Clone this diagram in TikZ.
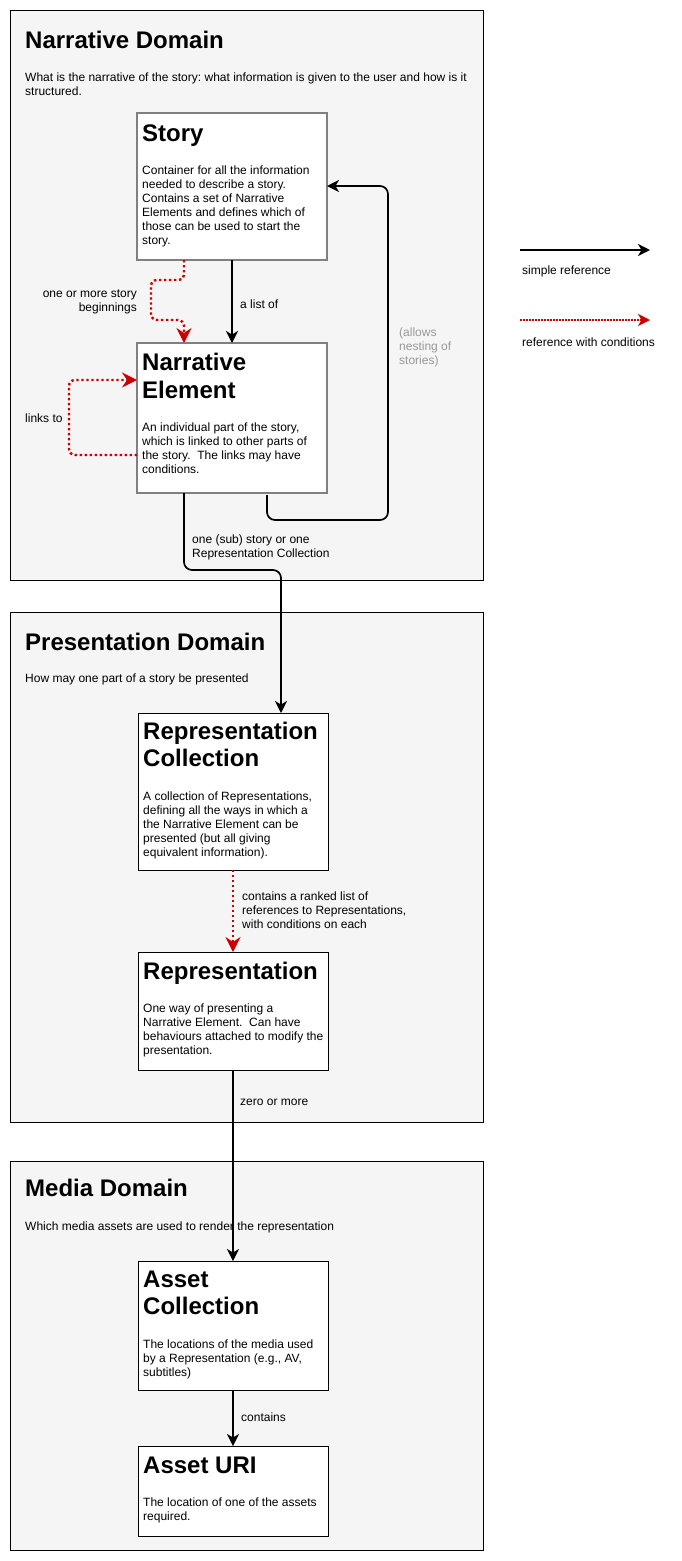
\documentclass[tikz,border=0pt]{standalone}
\usepackage{fontspec}
\setmainfont{Liberation Sans}
\usetikzlibrary{arrows.meta}
\definecolor{domfill}{HTML}{F5F5F5}
\definecolor{condred}{HTML}{CC0000}
\definecolor{boxgray}{HTML}{808080}
\definecolor{notegray}{HTML}{999999}
\frenchspacing
\begin{document}
\begin{tikzpicture}[x=1pt,y=-1pt,
  dombox/.style={draw=black, line width=1pt, fill=domfill, anchor=north west, inner sep=0pt, outer sep=0pt},
  itembox/.style={draw=black, line width=1pt, fill=white, anchor=north west, inner sep=0pt, outer sep=0pt, minimum width=190pt},
  itemgbox/.style={itembox, draw=boxgray, line width=1.6pt},
  dtitle/.style={anchor=base west, inner sep=0pt, font=\fontsize{24}{27.6}\selectfont\bfseries},
  txt/.style={anchor=base west, inner sep=0pt, font=\fontsize{12}{14}\selectfont},
  rtxt/.style={anchor=base east, inner sep=0pt, font=\fontsize{12}{14}\selectfont},
  simple/.style={draw=black, line width=1.7pt, -{Stealth[length=12pt,width=12pt,inset=3.5pt]}, rounded corners=8pt},
  cond/.style={draw=condred, line width=2.4pt, dash pattern=on 2.4pt off 2.6pt, -{Stealth[length=15pt,width=15pt,inset=5pt]}, rounded corners=6pt},
  condthin/.style={draw=condred, line width=1.5pt, dash pattern=on 1.5pt off 1.5pt, -{Stealth[length=12pt,width=12pt,inset=3.5pt]}},
]
\useasboundingbox (0,0) rectangle (681,1561);
\fill[white] (0,0) rectangle (681,1561);

% domains
\node[dombox, minimum width=473pt, minimum height=570pt] (nd) at (10,10) {};
\node[dombox, minimum width=473pt, minimum height=510pt] (pd) at (10,612) {};
\node[dombox, minimum width=473pt, minimum height=389pt] (md) at (10,1161) {};

% item boxes
\node[itemgbox, minimum height=147pt] (story) at (137,113) {};
\node[itemgbox, minimum height=150pt] (ne) at (137,343) {};
\node[itembox, minimum height=157pt] (rc) at (138,713) {};
\node[itembox, minimum height=118pt] (rep) at (138,952) {};
\node[itembox, minimum height=129pt] (ac) at (138,1261) {};
\node[itembox, minimum height=90pt] (au) at (138,1446) {};

% domain texts
\node[dtitle] (ndT) at (25,48.3) {Narrative Domain};
\node[txt] (ndD) at (25,81) {\parbox[t]{455pt}{What is the narrative of the story: what information is given to the user and how is it\\structured.}};
\node[dtitle] (pdT) at (25,650) {Presentation Domain};
\node[txt] (pdD) at (25,682.7) {How may one part of a story be presented};
\node[dtitle] (mdT) at (25,1196.7) {Media Domain};
\node[txt] (mdD) at (25,1230.7) {Which media assets are used to render the representation};

% item texts
\node[dtitle] (storyT) at (142,141.7) {Story};
\node[txt] (storyD) at (142,174) {\parbox[t]{185pt}{Container for all the information\\needed to describe a story.\\Contains a set of Narrative\\Elements and defines which of\\those can be used to start the\\story.}};
\node[dtitle] (neT) at (142,370.7) {\parbox[t]{185pt}{Narrative\\Element}};
\node[txt] (neD) at (142,431.7) {\parbox[t]{185pt}{An individual part of the story,\\which is linked to other parts of\\the story.\ \ The links may have\\conditions.}};
\node[dtitle] (rcT) at (143,739.3) {\parbox[t]{185pt}{Representation\\Collection}};
\node[txt] (rcD) at (143,800.7) {\parbox[t]{185pt}{A collection of Representations,\\defining all the ways in which a\\the Narrative Element can be\\presented (but all giving\\equivalent information).}};
\node[dtitle] (repT) at (143,979.3) {Representation};
\node[txt] (repD) at (143,1012.3) {\parbox[t]{185pt}{One way of presenting a\\Narrative Element.\ \ Can have\\behaviours attached to modify the\\presentation.}};
\node[dtitle] (acT) at (143,1287.3) {\parbox[t]{185pt}{Asset\\Collection}};
\node[txt] (acD) at (143,1348.3) {\parbox[t]{185pt}{The locations of the media used\\by a Representation (e.g., AV,\\subtitles)}};
\node[dtitle] (auT) at (143,1473.3) {Asset URI};
\node[txt] (auD) at (143,1506.7) {\parbox[t]{185pt}{The location of one of the assets\\required.}};

% connector labels
\node[rtxt] (lbBeg) at (137,297) {\parbox[t]{130pt}{\raggedleft one or more story\\beginnings}};
\node[txt] (lbList) at (240,308) {a list of};
\node[txt] (lbLinks) at (25,422.7) {links to};
\node[txt, text=notegray] (lbNest) at (399,336.7) {\parbox[t]{80pt}{(allows\\nesting of\\stories)}};
\node[txt] (lbSub) at (192,543) {\parbox[t]{200pt}{one (sub) story or one\\Representation Collection}};
\node[txt] (lbRank) at (242,900.7) {\parbox[t]{220pt}{contains a ranked list of\\references to Representations,\\with conditions on each}};
\node[txt] (lbZero) at (240,1105) {zero or more};
\node[txt] (lbCont) at (241,1421.7) {contains};

% legend
\coordinate (l1a) at (520,250);
\coordinate (l1b) at (650,250);
\coordinate (l2a) at (520,320);
\coordinate (l2b) at (650,320);
\node[txt] (lgS) at (522,274) {simple reference};
\node[txt] (lgC) at (522,346.7) {reference with conditions};
\draw[simple] (l1a) -- (l1b);
\draw[condthin] (l2a) -- (l2b);

% connectors
\draw[simple] ([xshift=95pt]story.south west) -- ([xshift=95pt]ne.north west);
\draw[cond] ([xshift=47pt]story.south west) -- (184,280) -- (151,280) -- (151,320) -- (184,320) -- ([xshift=47pt]ne.north west);
\draw[cond] ([yshift=-112pt]ne.north west) -- (69,455) -- (69,380) -- ([yshift=-37pt]ne.north west);
\draw[simple] ([xshift=130pt,yshift=-2pt]ne.south west) -- (267,520) -- (388,520) -- (388,186) -- ([yshift=-73pt]story.north east);
\draw[simple] ([xshift=47pt]ne.south west) -- (184,570) -- (281,570) -- ([xshift=143pt]rc.north west);
\draw[cond] ([xshift=95pt]rc.south west) -- ([xshift=95pt]rep.north west);
\draw[simple] ([xshift=95pt]rep.south west) -- ([xshift=95pt]ac.north west);
\draw[simple] ([xshift=95pt]ac.south west) -- ([xshift=95pt]au.north west);
\end{tikzpicture}
\end{document}
